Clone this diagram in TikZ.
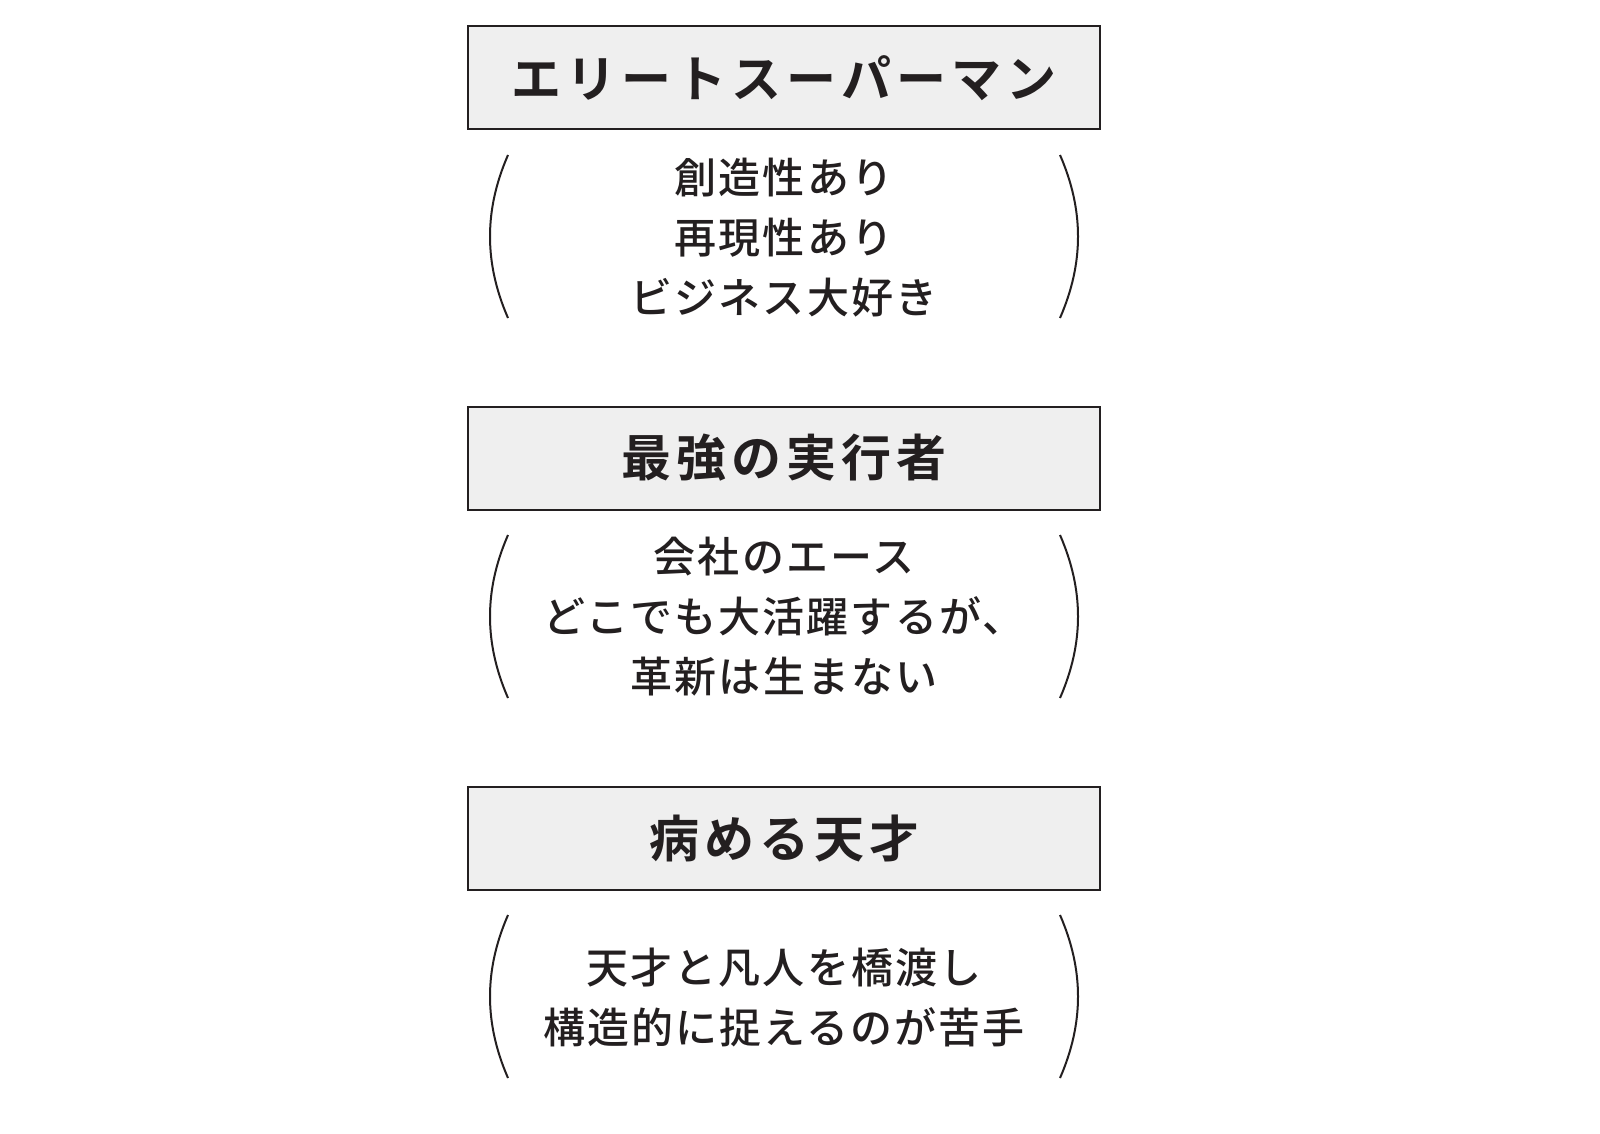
\documentclass[tikz,border=0pt]{standalone}
\usepackage{fontspec}
\newfontfamily\jpb[LetterSpace=10]{Noto Sans CJK JP Bold}
\newfontfamily\jp[LetterSpace=5]{Noto Sans CJK JP Medium}
\definecolor{ink}{HTML}{231F20}
\definecolor{boxg}{HTML}{EFEFEF}
\begin{document}
\begin{tikzpicture}[x=0.5pt,y=-0.5pt,
  title/.style={draw=ink,fill=boxg,line width=1pt,minimum width=316pt,minimum height=51.5pt,inner sep=0pt,font=\jpb\fontsize{25}{30}\selectfont,text=ink},
  body/.style={align=center,font=\jp\fontsize{21}{30}\selectfont,text=ink},
  par/.style={draw=ink,line width=1pt}]
\useasboundingbox (0,0) rectangle (1600,1134);
\foreach \n/\t/\y in {a/エリートスーパーマン/78, b/最強の実行者/458, c/病める天才/838}{
  \node[title] (\n) at (784,\y) {\t};
}
\node[body] (ta) at (784,238) {創造性あり\\再現性あり\\ビジネス大好き};
\node[body] (tb) at (784,617) {会社のエース\\どこでも大活躍するが、\\革新は生まない};
\node[body] (tc) at (784,997) {天才と凡人を橋渡し\\構造的に捉えるのが苦手};
\foreach \t in {155,535,915}{
  \draw[par] (508,\t) .. controls (484,\t+55) and (484,\t+108) .. (508,\t+163);
  \draw[par] (1060,\t) .. controls (1084,\t+55) and (1084,\t+108) .. (1060,\t+163);
}
\end{tikzpicture}
\end{document}
